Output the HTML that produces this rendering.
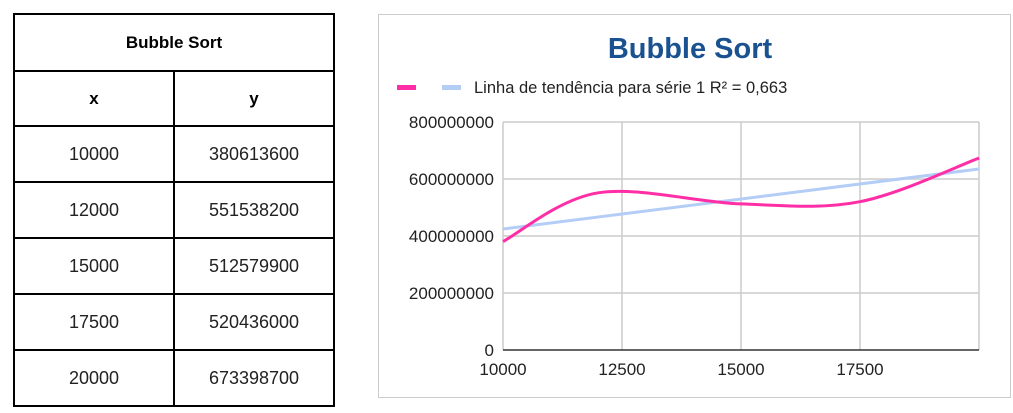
<!DOCTYPE html>
<html><head><meta charset="utf-8"><style>
body{margin:0;width:1013px;height:413px;background:#fff;font-family:"Liberation Sans",Arial,sans-serif;position:relative;overflow:hidden}
table{position:absolute;left:13px;top:13px;border-collapse:collapse;width:322px;table-layout:fixed}
td{border:2px solid #000;text-align:center;font-size:18px;color:#222;padding:0}
tr{height:56px}
td.h{font-weight:bold;color:#000;font-size:17px}
#chart{position:absolute;left:378px;top:14px;width:633px;height:384px;border:1px solid #ccc;box-sizing:border-box}
</style></head><body>
<table>
<tr style="height:57px"><td colspan="2" class="h">Bubble Sort</td></tr>
<tr style="height:55px"><td class="h" style="width:160px">x</td><td class="h">y</td></tr>
<tr><td>10000</td><td>380613600</td></tr>
<tr><td>12000</td><td>551538200</td></tr>
<tr><td>15000</td><td>512579900</td></tr>
<tr><td>17500</td><td>520436000</td></tr>
<tr><td>20000</td><td>673398700</td></tr>
</table>
<div id="chart"></div>
<svg id="svg" width="1013" height="413" style="position:absolute;left:0;top:0"></svg>
<script>
const xs=[10000,12000,15000,17500,20000];
const ys=[380613600,551538200,512579900,520436000,673398700];
const xTicks=[10000,12500,15000,17500];
const yTicks=[0,200000000,400000000,600000000,800000000];
const L=503,R=979,T=122,B=350;
const sx=v=>L+(v-10000)/10000*(R-L);
const sy=v=>B-v/800000000*(B-T);
const svg=document.getElementById('svg');
const NS='http://www.w3.org/2000/svg';
function mk(t,a,txt){const e=document.createElementNS(NS,t);for(const k in a)e.setAttribute(k,a[k]);if(txt!==undefined)e.textContent=txt;svg.appendChild(e);return e;}
const title=mk('text',{x:690,y:58,'text-anchor':'middle','font-size':29,'font-weight':'bold',fill:'#1a5291','font-family':'Liberation Sans, sans-serif'},'Bubble Sort');


const l1=mk('rect',{x:397,y:85,width:19,height:5,fill:'#ff2ea6'});


const l2=mk('rect',{x:442,y:85,width:19,height:5,fill:'#b3cdf7'});


const lt=mk('text',{x:474,y:93,'font-size':16.5,fill:'#222'},'Linha de tendência para série 1 R² = 0,663');


yTicks.forEach(v=>{
 if(v>0){const g=mk('line',{x1:L,x2:R,y1:sy(v),y2:sy(v),stroke:'#ccc','stroke-width':1.5});
 
 }
 const t=mk('text',{x:494,y:sy(v)+6,'text-anchor':'end','font-size':17,fill:'#222'},String(v));
 
 
});
[10000,12500,15000,17500,20000].forEach(v=>{
 const g=mk('line',{x1:sx(v),x2:sx(v),y1:T,y2:B,stroke:'#ccc','stroke-width':1.5});
 
 
});
xTicks.forEach(v=>{
 const t=mk('text',{x:sx(v),y:375,'text-anchor':'middle','font-size':17,fill:'#222'},String(v));
 
 
});
const ax=mk('line',{x1:L,x2:R,y1:B,y2:B,stroke:'#333','stroke-width':1.5});


const n=xs.length,mx=xs.reduce((a,b)=>a+b)/n,my=ys.reduce((a,b)=>a+b)/n;
let sxy=0,sxx=0;xs.forEach((x,i)=>{sxy+=(x-mx)*(ys[i]-my);sxx+=(x-mx)**2});
const m=sxy/sxx,b0=my-m*mx;
const tl=mk('line',{x1:sx(10000),y1:sy(m*10000+b0),x2:sx(20000),y2:sy(m*20000+b0),stroke:'#b3cdf7','stroke-width':3});


const P=xs.map((x,i)=>[sx(x),sy(ys[i])]);
let d=`M${P[0][0]},${P[0][1]}`;
for(let i=0;i<P.length-1;i++){
 const p0=P[Math.max(i-1,0)],p1=P[i],p2=P[i+1],p3=P[Math.min(i+2,P.length-1)];
 const k=6;
 d+=` C${p1[0]+(p2[0]-p0[0])/k},${p1[1]+(p2[1]-p0[1])/k} ${p2[0]-(p3[0]-p1[0])/k},${p2[1]-(p3[1]-p1[1])/k} ${p2[0]},${p2[1]}`;
}
const ln=mk('path',{d:d,fill:'none',stroke:'#ff2ea6','stroke-width':3});


</script>
</body></html>
